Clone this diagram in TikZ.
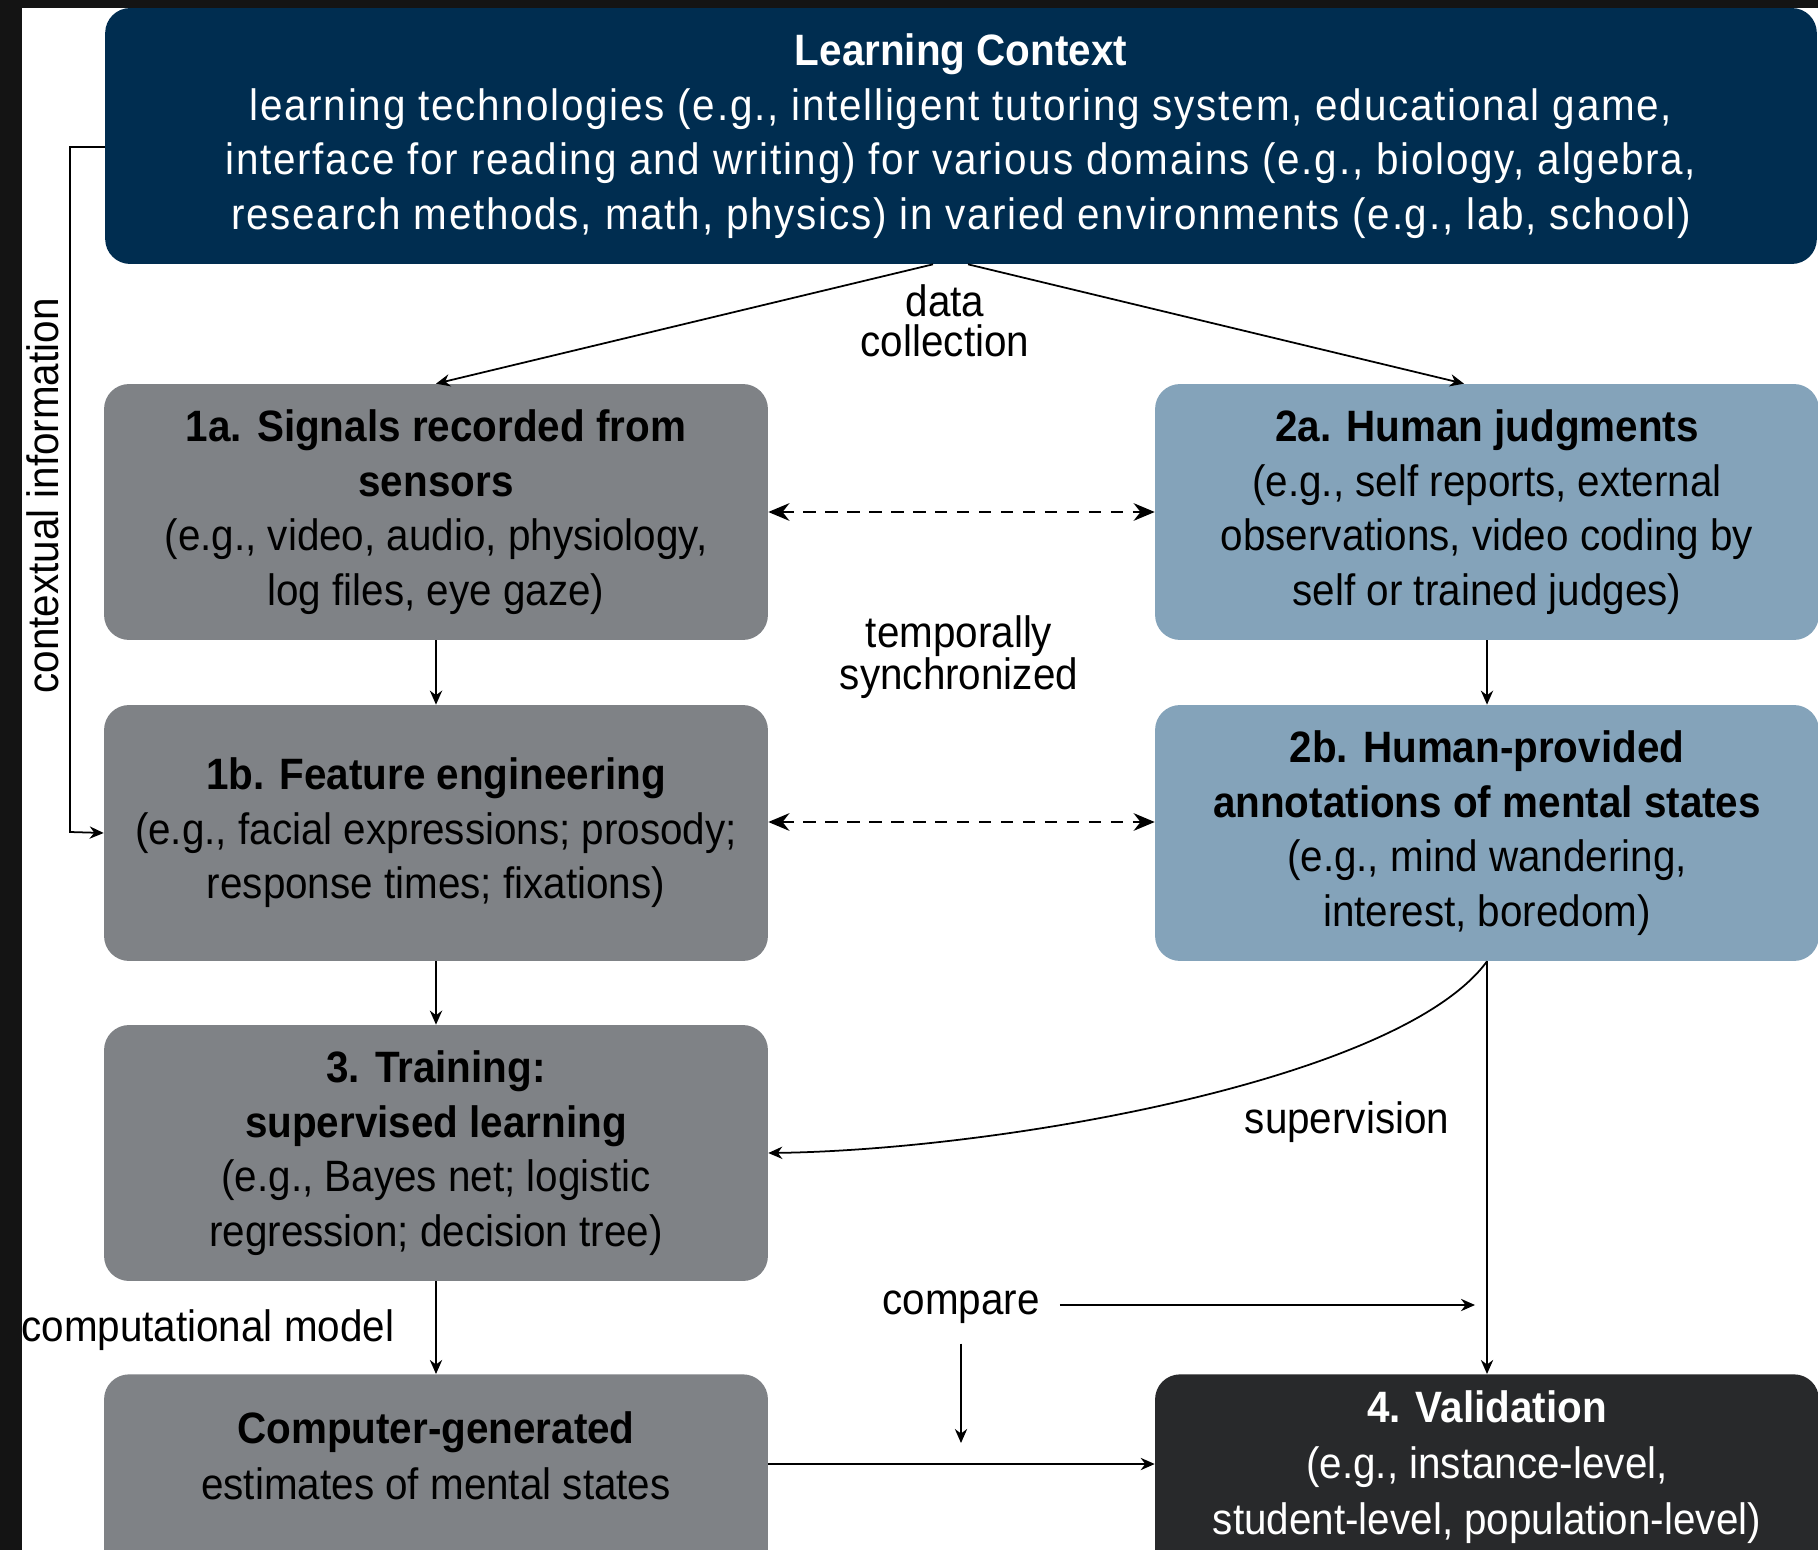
\documentclass[tikz,border=0pt]{standalone}
\usepackage{fontspec}
\setmainfont{Liberation Sans}[FakeStretch=0.92]
\usepackage{tikz}
\usetikzlibrary{arrows.meta,calc}
\definecolor{ctxnavy}{HTML}{002D50}
\definecolor{sensgrey}{HTML}{7F8286}
\definecolor{judgeblue}{HTML}{84A3BA}
\definecolor{validdark}{HTML}{28292B}
\definecolor{edgedark}{HTML}{141414}

\begin{document}
\begin{tikzpicture}[x=0.02cm,y=-0.02cm,
  font=\fontsize{25}{31}\selectfont,
  box/.style={rounded corners=0.5cm,align=center,minimum width=13.28cm,minimum height=5.12cm},
  sensbox/.style={box,fill=sensgrey},
  judgebox/.style={box,fill=judgeblue},
  tight/.style={align=center,font=\fontsize{25}{23}\selectfont},
  con/.style={-{Stealth[length=8pt,width=7pt]},line width=1pt},
  sync/.style={{Stealth[length=12pt,width=10pt]}-{Stealth[length=12pt,width=10pt]},line width=1.6pt,dash pattern=on 7pt off 5.5pt}]
\useasboundingbox[fill=white] (0,0) rectangle (1818,1550);
\fill[edgedark] (0,0) rectangle (1818,8);
\fill[edgedark] (0,0) rectangle (22,1550);

\node[box,fill=ctxnavy,text=white,minimum width=34.24cm,font=\fontsize{25}{31}\selectfont\addfontfeature{LetterSpace=4}] (ctx) at (961,136) {\textbf{\addfontfeature{LetterSpace=0}Learning Context}\\
learning technologies (e.g., intelligent tutoring system, educational game,\\
interface for reading and writing) for various domains (e.g., biology, algebra,\\
research methods, math, physics) in varied environments (e.g., lab, school)};

\node[sensbox] (sig) at (436,512) {\textbf{1a. Signals recorded from}\\\textbf{sensors}\\(e.g., video, audio, physiology,\\log files, eye gaze)};
\node[judgebox] (judge) at (1487,512) {\textbf{2a. Human judgments}\\(e.g., self reports, external\\observations, video coding by\\self or trained judges)};
\node[sensbox] (feat) at (436,833) {\textbf{1b. Feature engineering}\\(e.g., facial expressions; prosody;\\response times; fixations)};
\node[judgebox] (annot) at (1487,833) {\textbf{2b. Human-provided}\\\textbf{annotations of mental states}\\(e.g., mind wandering,\\interest, boredom)};
\node[sensbox] (train) at (436,1153) {\textbf{3. Training:}\\\textbf{supervised learning}\\(e.g., Bayes net; logistic\\regression; decision tree)};
\node[box,fill=sensgrey,minimum height=0pt,anchor=north,inner ysep=0.74cm,text depth=3cm,font=\fontsize{25}{32}\selectfont] (cg) at (436,1374) {\textbf{Computer-generated}\\estimates of mental states};
\node[box,fill=validdark,text=white,minimum height=0pt,anchor=north,inner ysep=0.32cm,text depth=3cm,font=\fontsize{25}{32}\selectfont] (valid) at (1487,1374) {\textbf{4. Validation}\\(e.g., instance-level,\\student-level, population-level)};

\node[rotate=90] (ctxlabel) at (43,496) {contextual information};
\node[tight] (datacol) at (945,321) {data\\collection};
\node[tight] (tsync) at (959,657) {temporally\\synchronized};
\node (sup) at (1347,1122) {supervision};
\node[anchor=west,inner sep=0pt] (cmodel) at (21,1330) {computational model};
\node[inner sep=0.4cm] (cmp) at (961,1307) {compare};
\coordinate (cmpend) at (1475,1305);
\coordinate (cmpdown) at (961,1443);
\coordinate (link) at (0,1464);

\draw[con] ([yshift=-0.22cm]ctx.west) -| (70,832) -- (feat.west);
\draw[con] ([xshift=-0.56cm]ctx.south) -- (sig.north);
\draw[con] ([xshift=0.14cm]ctx.south) -- ([xshift=-0.46cm]judge.north);
\draw[sync] (sig.east) -- (judge.west);
\draw[sync] ([yshift=0.22cm]feat.east) -- ([yshift=0.22cm]annot.west);
\draw[con] (sig) -- (feat);
\draw[con] (feat) -- (train);
\draw[con] (train) -- (cg);
\draw[con] (judge) -- (annot);
\draw[con] (annot.south) .. controls (1400,1080) and (1000,1150) .. (train.east);
\draw[con] (annot.south) -- (valid.north);
\draw[con] (cmp.east |- cmpend) -- (cmpend);
\draw[con] (cmp) -- (cmpdown);
\draw[con] (cg.east |- link) -- (valid.west |- link);
\end{tikzpicture}
\end{document}
